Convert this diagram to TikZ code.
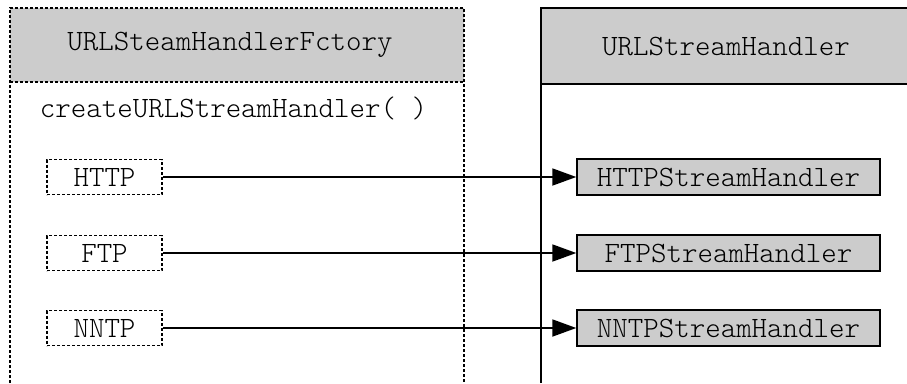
\documentclass[tikz,border=0pt]{standalone}
\usetikzlibrary{arrows.meta}
\definecolor{hdrgray}{HTML}{CCCCCC}
\begin{document}
\begin{tikzpicture}[x=1pt,y=-1pt,
  codefont/.style={font=\ttfamily\fontseries{l}\fontsize{29.5}{34}\selectfont},
  dotline/.style={line width=1.5pt, dash pattern=on 3pt off 2pt},
  solidline/.style={line width=1.8pt},
  protobox/.style={draw, dotline, codefont, inner sep=0pt,
    minimum width=115pt, minimum height=35pt},
  handlerbox/.style={draw, line width=1.4pt, fill=hdrgray, codefont, inner sep=0pt,
    minimum width=303pt, minimum height=36pt},
  link/.style={line width=1.8pt, -{Triangle[length=24pt,width=17pt]}}]
\useasboundingbox (0,0) rectangle (907,383);

% factory panel: grey header, dotted frame open at the bottom
\fill[hdrgray] (10,8) rectangle (464,82);
\draw[dotline] (10,383) -- (10,8) -- (464,8) -- (464,383);
\draw[dotline] (10,82) -- (464,82);
\node[codefont] (factory) at (230,45) {URLSteamHandlerFctory};
\node[codefont] (create) at (233.5,108) {createURLStreamHandler(~)};

% handler panel, running off the right edge
\fill[hdrgray] (541,8) rectangle (912,84);
\draw[solidline] (541,383) -- (541,8) -- (912,8);
\draw[solidline] (541,84) -- (912,84);
\node[codefont] (handler) at (726,46) {URLStreamHandler};

% protocols
\node[protobox] (http) at (104.5,177) {HTTP};
\node[protobox] (ftp)  at (104.5,253) {FTP};
\node[protobox] (nntp) at (104.5,328) {NNTP};

% concrete stream handlers
\node[handlerbox] (httph) at (728.5,177) {HTTPStreamHandler};
\node[handlerbox] (ftph)  at (728.5,253) {FTPStreamHandler};
\node[handlerbox] (nntph) at (728.5,328) {NNTPStreamHandler};

\draw[link] (http.east) -- (httph.west);
\draw[link] (ftp.east)  -- (ftph.west);
\draw[link] (nntp.east) -- (nntph.west);
\end{tikzpicture}
\end{document}
